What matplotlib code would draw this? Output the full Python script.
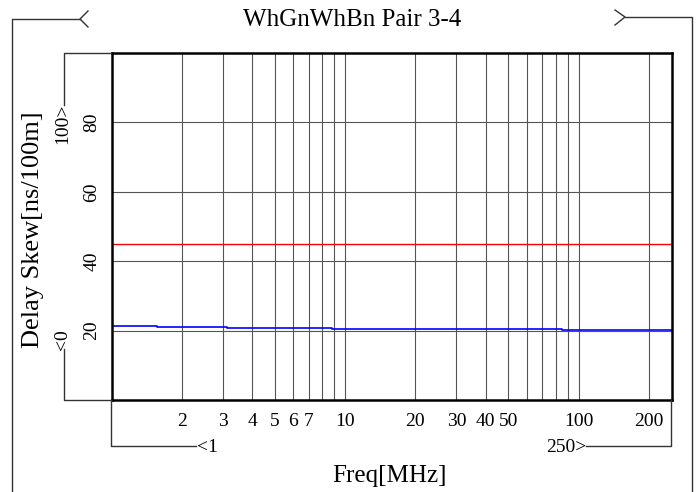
import matplotlib
matplotlib.use('Agg')
import matplotlib.pyplot as plt
from matplotlib.ticker import NullLocator

plt.rcParams['font.family'] = ['Liberation Serif', 'DejaVu Serif']

# measured delay skew (steps between frequency edges) and the limit line
freq_edges = [1, 1.57, 3.12, 8.8, 85, 250]
skew_ns = [21.3, 21.0, 20.75, 20.55, 20.25]
limit_freq = [1, 250]
limit_ns = [45, 45]

x_ticks = [2, 3, 4, 5, 6, 7, 8, 9, 10, 20, 30, 40, 50, 60, 70, 80, 90, 100, 200]
x_labels = ['2', '3', '4', '5', '6', '7', '', '', '10', '20', '30', '40',
            '50', '', '', '', '', '100', '200']
y_ticks = [20, 40, 60, 80]

W, H = 700, 492
fig = plt.figure(figsize=(W / 100, H / 100), dpi=100)

ax = fig.add_axes([111.5 / W, 1 - 400 / H, 560 / W, 347 / H])
ax.set_xscale('log')
ax.set_xlim(1, 250)
ax.set_ylim(0, 100)
ax.xaxis.set_minor_locator(NullLocator())
ax.set_xticks(x_ticks)
ax.set_xticklabels(x_labels, fontsize=14)
ax.set_yticks(y_ticks)
ax.set_yticklabels([str(v) for v in y_ticks], rotation=90, va='center',
                   fontsize=14)
ax.tick_params(length=0)
ax.tick_params(axis='x', pad=9)
ax.tick_params(axis='y', pad=8)
ax.grid(True, color='#555555', lw=0.8)
for s in ax.spines.values():
    s.set_linewidth(1.8)
    s.set_color('black')

ax.plot(limit_freq, limit_ns, color='#ff0000', lw=1.0)
ax.step(freq_edges, skew_ns + [skew_ns[-1]], where='post', color='#0000ff', lw=1.2)

# overlay in pixel units for the frame, brackets and labels
ov = fig.add_axes([0, 0, 1, 1])
ov.set_xlim(0, W)
ov.set_ylim(H, 0)
ov.axis('off')
ov.patch.set_alpha(0)

lc = dict(color='#333333', lw=1.0)
ov.plot([12, 12, 80], [H, 19, 19], **lc)
ov.plot([88, 80, 88], [11, 19, 27], **lc)
ov.plot([615, 625, 615], [10, 17, 25], **lc)
ov.plot([625, 692, 692], [17, 17, H], **lc)
ov.plot([111, 64, 64], [53, 53, 105], **lc)
ov.plot([64, 64, 111], [349, 400, 400], **lc)
ov.plot([111, 111, 196], [400, 446, 446], **lc)
ov.plot([586, 671, 671], [446, 446, 400], **lc)

ov.text(352, 20, 'WhGnWhBn Pair 3-4', fontsize=18, ha='center', va='center')
ov.text(389, 476, 'Freq[MHz]', fontsize=18, ha='center', va='center')
ov.text(33, 230, 'Delay Skew[ns/100m]', fontsize=19, rotation=90,
        ha='center', va='center')
ov.text(197, 447, '<1', fontsize=14, ha='left', va='center')
ov.text(586, 447, '250>', fontsize=14, ha='right', va='center')
ov.text(63, 104, '100>', fontsize=14, rotation=90, ha='center', va='top')
ov.text(63, 350, '<0', fontsize=14, rotation=90, ha='center', va='bottom')

fig.savefig('out.png', dpi=100)
